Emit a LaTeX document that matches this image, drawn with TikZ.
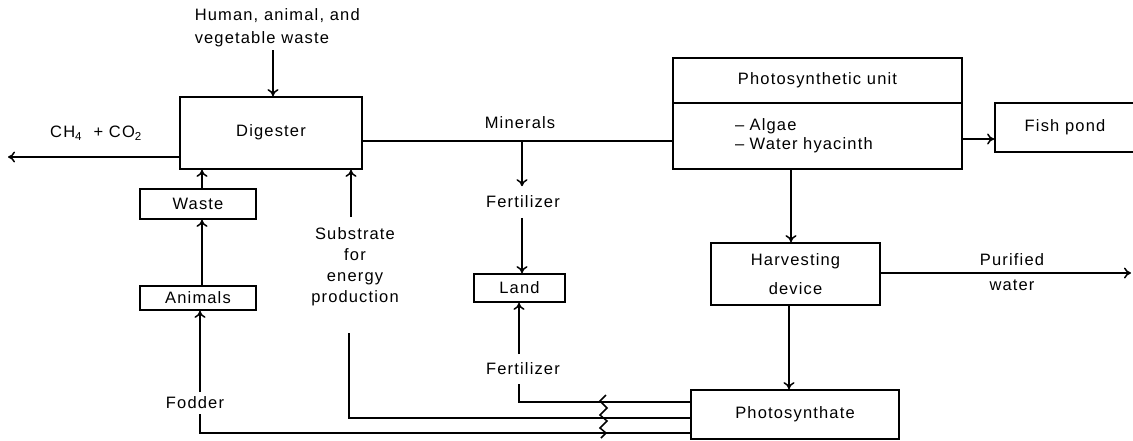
\documentclass[tikz,border=0pt]{standalone}
\usepackage{fontspec}
\setmainfont{Liberation Sans}[LetterSpace=7]
\usetikzlibrary{arrows.meta}
\newcommand\dfont{\fontsize{16.5}{21}\selectfont}
\begin{document}
\begin{tikzpicture}[x=1pt,y=-1pt, line width=1.5pt,
  every node/.style={font=\dfont},
  box/.style={draw, line width=1.8pt, inner sep=0pt, align=center},
  lbl/.style={inner sep=0pt, align=center},
  arr/.style={-{To[length=7pt,width=11pt]}},
]
\clip (0,0) rectangle (1133,440);
\fill[white] (0,0) rectangle (1133,440);
% boxes
\node[box, minimum width=182pt, minimum height=72pt] (dig) at (271,133) {\raisebox{4pt}{Digester}};
\node[box, minimum width=289pt, minimum height=45pt] (pu) at (817.5,80.5) {Photosynthetic unit};
\node[box, minimum width=289pt, minimum height=66pt, text width=165pt, align=left] (pub) at (817.5,136) {-- Algae\\[-2pt]-- Water hyacinth};
\node[box, minimum width=140pt, minimum height=49pt] (fish) at (1065,127.5) {Fish pond};
\node[box, minimum width=169pt, minimum height=62pt] (harv) at (795.5,274) {Harvesting\\[8pt]device};
\node[box, minimum width=208pt, minimum height=49pt] (ps) at (795,414.5) {Photosynthate};
\node[box, minimum width=91pt, minimum height=28pt] (land) at (519.5,288) {Land};
\node[box, minimum width=116pt, minimum height=30pt] (waste) at (198,204) {Waste};
\node[box, minimum width=116pt, minimum height=24pt] (animals) at (198,298) {Animals};
% labels
\node[lbl, align=left, anchor=west] (hum) at (194,28) {Human, animal, and\\[2pt]vegetable waste};
\node[lbl] (ch) at (96,133) {CH\textsubscript{4} \ + CO\textsubscript{2}};
\node[lbl] (min) at (520,123) {Minerals};
\node[lbl, inner ysep=9pt] (fert1) at (523,202) {Fertilizer};
\node[lbl, inner ysep=8pt] (fert2) at (523,369) {Fertilizer};
\node[lbl] (sub) at (355,267) {Substrate\\for\\energy\\production};
\node[lbl, inner ysep=4pt] (fod) at (195,403) {Fodder};
\node[lbl] (pur) at (1012,260) {Purified};
\node[lbl] (wat) at (1012,285) {water};
% coordinates
\coordinate (hw) at (273,50);
\coordinate (chend) at (8,157);
\coordinate (wx) at (202,0);
\coordinate (fx) at (200,0);
\coordinate (fy) at (0,433);
\coordinate (sx) at (0,418);
\coordinate (sb) at (349,333);
\coordinate (st) at (351,217);
\coordinate (my) at (0,141);
\coordinate (bx) at (522,141);
\coordinate (f2x) at (519,402);
\coordinate (hx) at (791,0);
\coordinate (hx2) at (789,0);
\coordinate (pw) at (1131,273);
\coordinate (fpy) at (0,139);
% connectors
\draw[arr] (hw) -- (hw |- dig.north);
\draw[arr] (dig.west |- chend) -- (chend);
\draw[arr] (waste.north -| wx) -- (wx |- dig.south);
\draw[arr] (animals.north -| wx) -- (wx |- waste.south);
\draw (ps.west |- fy) -| (fx |- fod.south);
\draw[arr] (fx |- fod.north) -- (fx |- animals.south);
\draw (ps.west |- sx) -| (sb);
\draw[arr] (st) -- (st |- dig.south);
\draw (dig.east |- my) -- (pub.west |- my);
\draw[arr] (bx) -- (bx |- fert1.north);
\draw[arr] (bx |- fert1.south) -- (bx |- land.north);
\draw (ps.west |- f2x) -| (fert2.south -| f2x);
\draw[arr] (fert2.north -| f2x) -- (f2x |- land.south);
\draw[arr] (pub.south -| hx) -- (hx |- harv.north);
\draw[arr] (harv.south -| hx2) -- (hx2 |- ps.north);
\draw[arr] (harv.east |- pw) -- (pw);
\draw[arr] (pub.east |- fpy) -- (fish.west |- fpy);
% break mark
\draw[line width=1.5pt] (606,395) -- (600,401) -- (607,408) -- (600,415) -- (607,421) -- (600,428) -- (606,433) -- (601,438);
\end{tikzpicture}
\end{document}
